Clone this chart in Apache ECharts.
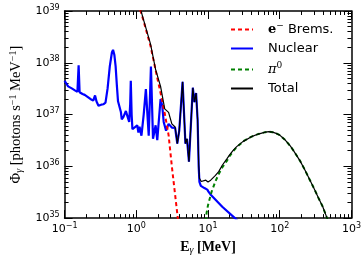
<!DOCTYPE html>
<html><head><meta charset="utf-8">
<script src="https://cdn.jsdelivr.net/npm/echarts@6/dist/echarts.min.js"></script>
<style>html,body{margin:0;padding:0;background:#fff}#c{width:364px;height:260px}</style>
</head><body><div id="c"></div>
<script>
// e- bremsstrahlung
const bremsE   = [0.95, 1.0, 1.26, 1.58, 2.0, 2.24, 2.51, 2.82, 3.16, 3.55, 3.98];
const bremsPhi = [2.6e39, 1.9e39, 6.5e38, 2.1e38, 4.5e37, 2.2e37, 1.0e37, 4.0e36, 8.9e35, 2.2e35, 5.6e34];
// nuclear
const nucE = [0.1, 0.112, 0.126, 0.141, 0.151, 0.157, 0.162, 0.178, 0.191, 0.2, 0.209, 0.229, 0.251, 0.266, 0.279, 0.297,
  0.324, 0.347, 0.372, 0.398, 0.427, 0.457, 0.474, 0.495, 0.515, 0.537, 0.556, 0.582, 0.61, 0.627, 0.66, 0.716, 0.759,
  0.796, 0.822, 0.838, 0.861, 0.883, 0.933, 1.03, 1.07, 1.11, 1.18, 1.27, 1.36, 1.49, 1.6, 1.71, 1.86, 1.96, 2.18, 2.3,
  2.41, 2.6, 2.82, 3.13, 3.48, 3.73, 3.97, 4.42, 4.84, 5.09, 5.42, 6.14, 6.47, 6.82, 7.16, 7.41, 7.59, 7.94, 8.91, 9.77,
  10.2, 11.0, 15.8, 23.7, 26.3];
const nucPhi = [4.5e37, 3.5e37, 3.2e37, 2.9e37, 2.75e37, 8.9e37, 2.7e37, 2.5e37, 2.4e37, 2.6e37, 2.2e37, 2.0e37, 1.86e37, 2.34e37, 1.78e37, 1.48e37,
  1.55e37, 1.58e37, 1.7e37, 3.2e37, 8.5e37, 1.58e38, 1.78e38, 1.41e38, 8.5e37, 3.5e37, 1.8e37, 1.74e37, 1.12e37, 8.1e36, 8.9e36, 1.17e37, 8.9e36,
  7.2e36, 1.58e37, 4.5e37, 1.0e37, 5.2e36, 5.6e36, 6.2e36, 4.5e36, 5.8e36, 3.9e36, 1.02e37, 3.1e37, 3.9e36, 8.5e37, 3.4e36, 6.2e36, 3.2e36, 2.0e37, 1.48e37,
  7.2e36, 4.9e36, 6.6e36, 5.6e36, 5.5e36, 2.75e36, 4.9e36, 4.3e37, 2.75e36, 3.4e36, 1.23e36, 3.3e37, 1.74e37, 2.6e37, 7.9e36, 1.0e36, 5.0e35, 4.2e35, 3.8e35, 3.55e35,
  3.2e35, 2.8e35, 1.66e35, 1.0e35, 8.7e34];
// pi0 decay
const pionE   = [9.12, 9.55, 10, 11.2, 12.6, 14.1, 15.8, 18.2, 20, 22.4, 25.1, 31.6, 39.8, 50.1, 63.1, 70.8, 79.4, 91.2, 100,
  117, 141, 158, 191, 219, 251, 302, 347, 398, 457, 501];
const pionPhi = [6.3e34, 1.26e35, 1.78e35, 3.2e35, 5.0e35, 7.1e35, 9.5e35, 1.26e36, 1.58e36, 1.95e36, 2.34e36, 3.1e36, 3.7e36, 4.2e36, 4.57e36, 4.68e36, 4.57e36, 4.27e36, 4.0e36,
  3.3e36, 2.45e36, 1.95e36, 1.29e36, 9.1e35, 6.2e35, 3.7e35, 2.45e35, 1.66e35, 1.0e35, 7.2e34];
// total
const totE = [0.95, 1.0, 1.26, 1.58, 1.86, 2.18, 2.49, 2.82, 3.13, 3.48, 3.73, 3.97, 4.42, 4.84, 5.09, 5.42, 6.14, 6.47, 6.82, 7.16,
  7.41, 7.59, 8.04, 8.37, 9.31, 10, 10.9, 12.6, 14.1, 15.8, 18.2, 20, 22.4, 25.1, 30.6, 39.8, 50.1, 63.1, 70.8, 79.4, 91.2, 100,
  117, 141, 158, 191, 219, 251, 302, 347, 398, 457, 501];
const totPhi = [2.8e39, 2.1e39, 6.8e38, 2.3e38, 7.4e37, 3.5e37, 1.29e37, 1.1e37, 6.6e36, 5.75e36, 2.75e36, 4.9e36, 4.3e37, 2.75e36, 3.4e36, 1.23e36, 3.3e37, 1.74e37, 2.6e37, 7.9e36,
  1.1e36, 5.9e35, 5.1e35, 5.0e35, 5.4e35, 5.0e35, 5.4e35, 6.6e35, 7.9e35, 1.05e36, 1.38e36, 1.66e36, 2.04e36, 2.4e36, 3.0e36, 3.7e36, 4.2e36, 4.57e36, 4.68e36, 4.57e36, 4.27e36, 4.0e36,
  3.3e36, 2.45e36, 1.95e36, 1.29e36, 9.1e35, 6.2e35, 3.7e35, 2.45e35, 1.66e35, 1.0e35, 7.2e34];

const xMajor = [0.1, 1, 10, 100, 1000];
const yMajor = [1e35, 1e36, 1e37, 1e38, 1e39];

function minorTicks(major) {
  const out = [];
  for (let i = 0; i < major.length - 1; i++) for (let k = 2; k <= 9; k++) out.push(major[i] * k);
  return out;
}
const xMinor = minorTicks(xMajor), yMinor = minorTicks(yMajor);

// keep end ticks inside the axis extent despite floating point in log space
function inside(vals, lo, hi) {
  return vals.map(v => Math.min(hi * (1 - 1e-9), Math.max(lo * (1 + 1e-9), v)));
}

function expLabel(v) {
  const e = Math.round(Math.log10(v));
  return '10{s|' + String(e).replace('-', '−') + '}';
}
const tickRich = {
  s: {fontSize: 8, fontFamily: 'DejaVu Sans', color: '#000', padding: [0, 0, 7, 0]}
};
const lineC = {color: '#000', width: 1.5};

function axis(kind, pos, major, labels) {
  const isX = kind === 'x';
  const lo = isX ? 0.1 : 1e35, hi = isX ? 1000 : 1e39;
  const maj = inside(isX ? xMajor : yMajor, lo, hi);
  return {
    type: 'log', logBase: 10,
    min: lo, max: hi,
    position: pos,
    axisLine: {show: major, onZero: false, lineStyle: lineC},
    axisTick: {show: true, inside: true, length: major ? 8 : 4, lineStyle: {color: '#000', width: 1},
      customValues: major ? maj : (isX ? xMinor : yMinor)},
    axisLabel: {show: labels, customValues: maj, formatter: expLabel, showMaxLabel: true, showMinLabel: true,
      fontSize: 11, fontFamily: 'DejaVu Sans', color: '#000', margin: isX ? 4 : 5, rich: tickRich},
    splitLine: {show: false}, minorTick: {show: false}
  };
}

const xAxes = [axis('x', 'bottom', true, true), axis('x', 'bottom', false, false), axis('x', 'top', true, false), axis('x', 'top', false, false)];
const yAxes = [axis('y', 'left', true, true), axis('y', 'left', false, false), axis('y', 'right', true, false), axis('y', 'right', false, false)];

xAxes[0].name = '{b|E}{sub|γ}{b| [MeV]}';
xAxes[0].nameLocation = 'middle';
xAxes[0].nameGap = 16;
xAxes[0].nameTextStyle = {rich: {
  b: {fontFamily: 'Liberation Serif', fontWeight: 'bold', fontSize: 14, color: '#000'},
  sub: {fontFamily: 'Liberation Serif', fontStyle: 'italic', fontSize: 10, color: '#000', padding: [6, 0, 0, 0]}
}};
yAxes[0].name = '{r|Φ}{sub|γ}{r| [photons s}{sup|−1}{r| MeV}{sup|−1}{r|]}';
yAxes[0].nameLocation = 'middle';
yAxes[0].nameGap = 38;
yAxes[0].nameTextStyle = {rich: {
  r: {fontFamily: 'Liberation Serif', fontSize: 14.5, color: '#000'},
  sub: {fontFamily: 'Liberation Serif', fontStyle: 'italic', fontSize: 10, color: '#000', padding: [6, 0, 0, 0]},
  sup: {fontFamily: 'Liberation Serif', fontSize: 10, color: '#000', padding: [0, 0, 7, 0]}
}};

function pairs(a, b) { return a.map((v, i) => [v, b[i]]); }

const chart = echarts.init(document.getElementById('c'), null, {renderer: 'canvas'});
chart.setOption({
  animation: false,
  backgroundColor: '#fff',
  grid: {left: 56, right: 12, top: 11, bottom: 40, containLabel: false},
  xAxis: xAxes,
  yAxis: yAxes,
  legend: {
    orient: 'vertical', left: 225, top: 16, itemWidth: 22, itemHeight: 14, itemGap: 6,
    itemStyle: {opacity: 0, borderWidth: 0},
    data: ['e⁻ Brems.', 'Nuclear', 'π⁰', 'Total'],
    formatter: function (n) {
      if (n === 'e⁻ Brems.') return '{sp|}{e|e}{s|−}{t| Brems.}';
      if (n === 'π⁰') return '{sp|}{p|π}{s|0}';
      return '{sp|}{t|' + n + '}';
    },
    textStyle: {fontSize: 13, fontFamily: 'DejaVu Sans', color: '#000', rich: {
      sp: {width: 10},
      t: {fontSize: 13, fontFamily: 'DejaVu Sans', color: '#000'},
      e: {fontSize: 13, fontFamily: 'DejaVu Serif', fontWeight: 'bold', color: '#000'},
      p: {fontSize: 13, fontFamily: 'DejaVu Serif', fontStyle: 'italic', color: '#000'},
      s: {fontSize: 9, fontFamily: 'DejaVu Serif', color: '#000', padding: [0, 0, 8, 0]}
    }}
  },
  series: [
    {name: 'e⁻ Brems.', type: 'line', data: pairs(bremsE, bremsPhi), showSymbol: false, symbol: 'none',
      lineStyle: {color: '#ff0000', width: 2, type: [4, 3]}, itemStyle: {color: '#ff0000'}, z: 3},
    {name: 'Nuclear', type: 'line', data: pairs(nucE, nucPhi), showSymbol: false, symbol: 'none',
      lineStyle: {color: '#0000ff', width: 2.2}, itemStyle: {color: '#0000ff'}, z: 2},
    {name: 'π⁰', type: 'line', data: pairs(pionE, pionPhi), showSymbol: false, symbol: 'none',
      lineStyle: {color: '#008000', width: 2, type: [4, 3]}, itemStyle: {color: '#008000'}, z: 3},
    {name: 'Total', type: 'line', data: pairs(totE, totPhi), showSymbol: false, symbol: 'none',
      lineStyle: {color: '#000', width: 1.2}, itemStyle: {color: '#000'}, z: 4}
  ]
});
</script></body></html>
